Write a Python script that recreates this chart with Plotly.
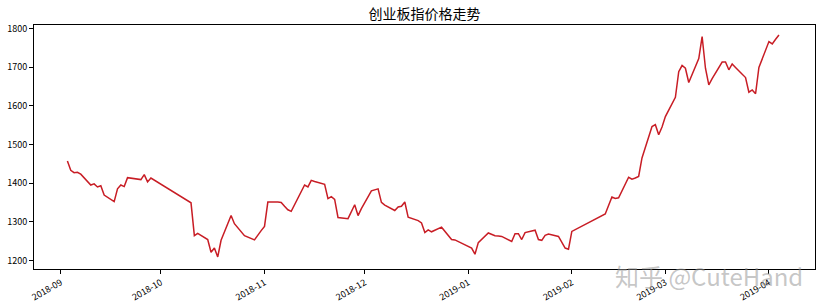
import plotly.graph_objects as go

title_text = "创业板指价格走势"

dates = [
    "2018-09-03", "2018-09-04", "2018-09-05", "2018-09-06", "2018-09-07",
    "2018-09-10", "2018-09-11", "2018-09-12", "2018-09-13", "2018-09-14",
    "2018-09-17", "2018-09-18", "2018-09-19", "2018-09-20", "2018-09-21",
    "2018-09-25", "2018-09-26", "2018-09-27", "2018-09-28",
    "2018-10-08", "2018-10-09", "2018-10-10", "2018-10-11", "2018-10-12",
    "2018-10-15", "2018-10-16", "2018-10-17", "2018-10-18", "2018-10-19",
    "2018-10-22", "2018-10-23", "2018-10-24", "2018-10-25", "2018-10-26",
    "2018-10-29", "2018-10-30", "2018-10-31",
    "2018-11-01", "2018-11-02", "2018-11-05", "2018-11-06", "2018-11-07",
    "2018-11-08", "2018-11-09", "2018-11-12", "2018-11-13", "2018-11-14",
    "2018-11-15", "2018-11-16", "2018-11-19", "2018-11-20", "2018-11-21",
    "2018-11-22", "2018-11-23", "2018-11-26", "2018-11-27", "2018-11-28",
    "2018-11-29", "2018-11-30",
    "2018-12-03", "2018-12-04", "2018-12-05", "2018-12-06", "2018-12-07",
    "2018-12-10", "2018-12-11", "2018-12-12", "2018-12-13", "2018-12-14",
    "2018-12-17", "2018-12-18", "2018-12-19", "2018-12-20", "2018-12-21",
    "2018-12-24", "2018-12-25", "2018-12-26", "2018-12-27", "2018-12-28",
    "2019-01-02", "2019-01-03", "2019-01-04", "2019-01-07", "2019-01-08",
    "2019-01-09", "2019-01-10", "2019-01-11", "2019-01-14", "2019-01-15",
    "2019-01-16", "2019-01-17", "2019-01-18", "2019-01-21", "2019-01-22",
    "2019-01-23", "2019-01-24", "2019-01-25", "2019-01-28", "2019-01-29",
    "2019-01-30", "2019-01-31",
    "2019-02-01", "2019-02-11", "2019-02-12", "2019-02-13", "2019-02-14",
    "2019-02-15", "2019-02-18", "2019-02-19", "2019-02-20", "2019-02-21",
    "2019-02-22", "2019-02-25", "2019-02-26", "2019-02-27", "2019-02-28",
    "2019-03-01", "2019-03-04", "2019-03-05", "2019-03-06", "2019-03-07",
    "2019-03-08", "2019-03-11", "2019-03-12", "2019-03-13", "2019-03-14",
    "2019-03-15", "2019-03-18", "2019-03-19", "2019-03-20", "2019-03-21",
    "2019-03-22", "2019-03-25", "2019-03-26", "2019-03-27", "2019-03-28",
    "2019-03-29",
    "2019-04-01", "2019-04-02", "2019-04-03", "2019-04-04",
]

close = [
    1457, 1433, 1427, 1428, 1423,
    1395, 1398, 1390, 1393, 1369,
    1352, 1385, 1395, 1391, 1414,
    1409, 1422, 1403, 1413,
    1360, 1354, 1349, 1264, 1270,
    1254, 1221, 1232, 1209, 1252,
    1316, 1295, 1285, 1274, 1264,
    1253, 1266, 1277,
    1288, 1351, 1351, 1350, 1340,
    1331, 1327, 1378, 1395, 1390,
    1407, 1404, 1397, 1360, 1365,
    1358, 1311, 1308, 1325, 1344,
    1316, 1334,
    1380, 1383, 1385, 1350, 1343,
    1329, 1338, 1340, 1351, 1312,
    1303, 1297, 1272, 1279, 1274,
    1286, 1275, 1264, 1254, 1253,
    1232, 1216, 1246, 1271, 1267,
    1264, 1263, 1262, 1249, 1269,
    1269, 1254, 1272, 1278, 1254,
    1252, 1265, 1268, 1262, 1245,
    1232, 1229,
    1275, 1320, 1342, 1364, 1360,
    1362, 1415, 1410, 1413, 1417,
    1465, 1546, 1551, 1525, 1545,
    1572, 1622, 1688, 1704, 1697,
    1660, 1722, 1779, 1697, 1654,
    1670, 1713, 1713, 1693, 1708,
    1699, 1673, 1635, 1641, 1631,
    1699,
    1766, 1760, 1772, 1783,
]

x_tick_vals = ["2018-09-01", "2018-10-01", "2018-11-01", "2018-12-01",
               "2019-01-01", "2019-02-01", "2019-03-01", "2019-04-01"]
x_tick_text = ["2018-09", "2018-10", "2018-11", "2018-12",
               "2019-01", "2019-02", "2019-03", "2019-04"]
y_tick_vals = [1200, 1300, 1400, 1500, 1600, 1700, 1800]
watermark = "知乎 @CuteHand"

FONT = "Noto Sans CJK SC, DejaVu Sans, sans-serif"

fig = go.Figure()
fig.add_trace(go.Scatter(
    x=dates, y=close, mode="lines",
    line=dict(color="#c81d25", width=1.5),
    showlegend=False, hoverinfo="skip",
))

fig.update_layout(
    width=826, height=308,
    margin=dict(l=34, r=11, t=25, b=39, autoexpand=False),
    paper_bgcolor="white", plot_bgcolor="white",
    title=dict(text=title_text, x=0.514, xanchor="center", y=0.955, yanchor="middle",
               font=dict(family=FONT, size=14, color="black")),
    font=dict(family=FONT, color="black"),
)

fig.update_xaxes(
    type="date", range=["2018-08-24", "2019-04-14 19:00"],
    tickvals=x_tick_vals, ticktext=x_tick_text, tickangle=-30,
    tickfont=dict(size=9, family=FONT, color="black"),
    showgrid=False, zeroline=False,
    showline=True, linecolor="black", linewidth=1, mirror=True,
    ticks="outside", ticklen=4, tickcolor="black", tickwidth=1,
)
fig.update_yaxes(
    range=[1177.8, 1808.8], tickvals=y_tick_vals,
    tickfont=dict(size=9, family=FONT, color="black"),
    showgrid=False, zeroline=False,
    showline=True, linecolor="black", linewidth=1, mirror=True,
    ticks="outside", ticklen=4, tickcolor="black", tickwidth=1,
)

fig.add_annotation(
    text=watermark, xref="paper", yref="paper",
    x=0.864, y=-0.025, xanchor="center", yanchor="middle",
    showarrow=False,
    font=dict(family=FONT, size=24, color="rgba(150,150,150,0.55)"),
)

fig.write_html("out.html")
